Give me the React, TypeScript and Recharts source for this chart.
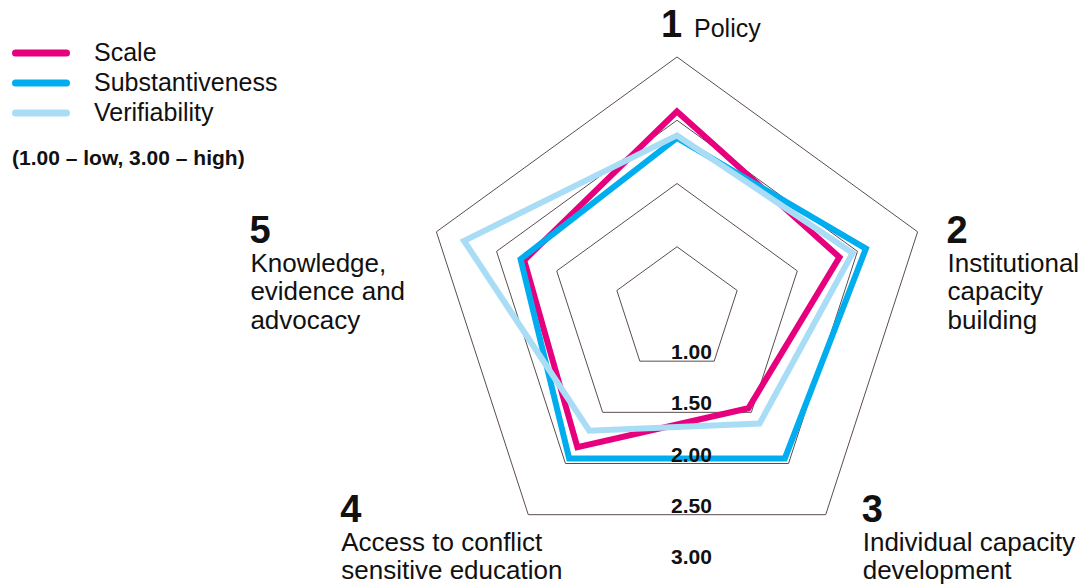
import React from "react";
import { RadarChart, Radar, PolarGrid, PolarAngleAxis, PolarRadiusAxis, Legend } from "recharts";

// Categories (clockwise from the top) and their printed labels
const categories = [
  "Policy",
  "Institutional capacity building",
  "Individual capacity development",
  "Access to conflict sensitive education",
  "Knowledge, evidence and advocacy",
];
const categoryNumbers = ["1", "2", "3", "4", "5"];
const categoryLines = [
  ["Policy"],
  ["Institutional", "capacity", "building"],
  ["Individual capacity", "development"],
  ["Access to conflict", "sensitive education"],
  ["Knowledge,", "evidence and", "advocacy"],
];

// Series values (1.00 – low, 3.00 – high)
const scaleValues = [2.07, 1.85, 1.46, 1.84, 1.77];
const substantivenessValues = [1.86, 2.07, 1.95, 1.95, 1.8];
const verifiabilityValues = [1.88, 1.96, 1.61, 1.68, 2.27];

// Radius axis
const radiusDomain: [number, number] = [0.5, 3];
const radiusTicks = [1, 1.5, 2, 2.5, 3];
const gridValues = [1, 1.5, 2, 2.5];

const series = [
  { key: "scale", name: "Scale", color: "#e6007e" },
  { key: "substantiveness", name: "Substantiveness", color: "#00aeef" },
  { key: "verifiability", name: "Verifiability", color: "#a9ddf6" },
];

const W = 1085;
const H = 586;
const CX = 677;
const CY = 310;
const OUTER_R = 316.25;
const FONT = "'Liberation Sans', Arial, Helvetica, sans-serif";
const INK = "#111";

const radiusOf = (v: number) => (OUTER_R * (v - radiusDomain[0])) / (radiusDomain[1] - radiusDomain[0]);
const gridRadii = gridValues.map(radiusOf);
const GRID_OUTER = radiusOf(gridValues[gridValues.length - 1]);

// label offsets from the outer pentagon's vertex
const labelOffsets = [
  { dx: -16, dy: -20 },
  { dx: 29, dy: 11 },
  { dx: 36, dy: 7 },
  { dx: -188, dy: 7 },
  { dx: -187, dy: 11 },
];

const rows = categories.map((axis, i) => ({
  axis,
  scale: scaleValues[i],
  substantiveness: substantivenessValues[i],
  verifiability: verifiabilityValues[i],
}));

const AngleTick = (props: any) => {
  const { payload } = props;
  const i = categories.indexOf(payload.value);
  if (i < 0) return <g />;
  const a = (payload.coordinate * Math.PI) / 180;
  const vx = CX + GRID_OUTER * Math.cos(a);
  const vy = CY - GRID_OUTER * Math.sin(a);
  const x = vx + labelOffsets[i].dx;
  const y = vy + labelOffsets[i].dy;
  if (i === 0) {
    return (
      <g fontFamily={FONT} fill={INK}>
        <text x={x} y={y} fontSize={38} fontWeight="bold">
          {categoryNumbers[i]}
        </text>
        <text x={x + 33} y={y} fontSize={25}>
          {categoryLines[i][0]}
        </text>
      </g>
    );
  }
  return (
    <g fontFamily={FONT} fill={INK}>
      <text x={x} y={y} fontSize={38} fontWeight="bold">
        {categoryNumbers[i]}
      </text>
      {categoryLines[i].map((line, k) => (
        <text key={line} x={x + 1} y={y + 29 + k * 28.5} fontSize={26}>
          {line}
        </text>
      ))}
    </g>
  );
};

const RadiusTick = (props: any) => {
  const { payload, y } = props;
  const v = Number(payload.value);
  if (!radiusTicks.some((t) => Math.abs(t - v) < 1e-6)) return <g />;
  const r = payload.coordinate ?? y - CY;
  return (
    <text
      x={CX - 6}
      y={CY + r * Math.cos(Math.PI / 5) - 2}
      fontFamily={FONT}
      fontSize={21}
      fontWeight="bold"
      fill={INK}
    >
      {v.toFixed(2)}
    </text>
  );
};

const LegendContent = (props: any) => {
  const payload = props.payload || [];
  return (
    <svg width={300} height={180} style={{ display: "block" }}>
      {payload.map((entry: any, i: number) => {
        const s = series.find((d) => d.key === entry.dataKey);
        return (
          <g key={entry.value}>
            <line
              x1={15.5}
              x2={66.5}
              y1={53 + i * 30}
              y2={53 + i * 30}
              stroke={s ? s.color : entry.color}
              strokeWidth={7}
              strokeLinecap="round"
            />
            <text x={94} y={61 + i * 30} fontFamily={FONT} fontSize={25} fill={INK}>
              {entry.value}
            </text>
          </g>
        );
      })}
      <text x={12} y={165} fontFamily={FONT} fontSize={21} fontWeight="bold" fill={INK}>
        (1.00 – low, 3.00 – high)
      </text>
    </svg>
  );
};

export default function App() {
  return (
    <div style={{ width: W, height: H, background: "#fff", fontFamily: FONT }}>
      <style>{"body{margin:0}"}</style>
      <RadarChart
        width={W}
        height={H}
        data={rows}
        cx={CX}
        cy={CY}
        outerRadius={OUTER_R}
        startAngle={90}
        endAngle={-270}
        margin={{ top: 0, right: 0, bottom: 0, left: 0 }}
      >
        <PolarGrid gridType="polygon" radialLines={false} polarRadius={gridRadii} stroke="#5b4d4d" strokeWidth={1} />
        <PolarAngleAxis dataKey="axis" tick={AngleTick} axisLine={false} tickLine={false} />
        <PolarRadiusAxis
          angle={-90}
          type="number"
          domain={radiusDomain}
          allowDecimals={true}
          tickCount={6}
          axisLine={false}
          tickLine={false}
          tick={RadiusTick}
        />
        {series.map((s) => (
          <Radar
            key={s.key}
            dataKey={s.key}
            name={s.name}
            stroke={s.color}
            strokeWidth={6}
            fill="none"
            fillOpacity={0}
            dot={false}
            isAnimationActive={false}
          />
        ))}
        <Legend
          layout="vertical"
          align="center"
          verticalAlign="middle"
          content={LegendContent}
          wrapperStyle={{ left: 0, top: 0, width: 300, height: 180 }}
        />
      </RadarChart>
    </div>
  );
}
